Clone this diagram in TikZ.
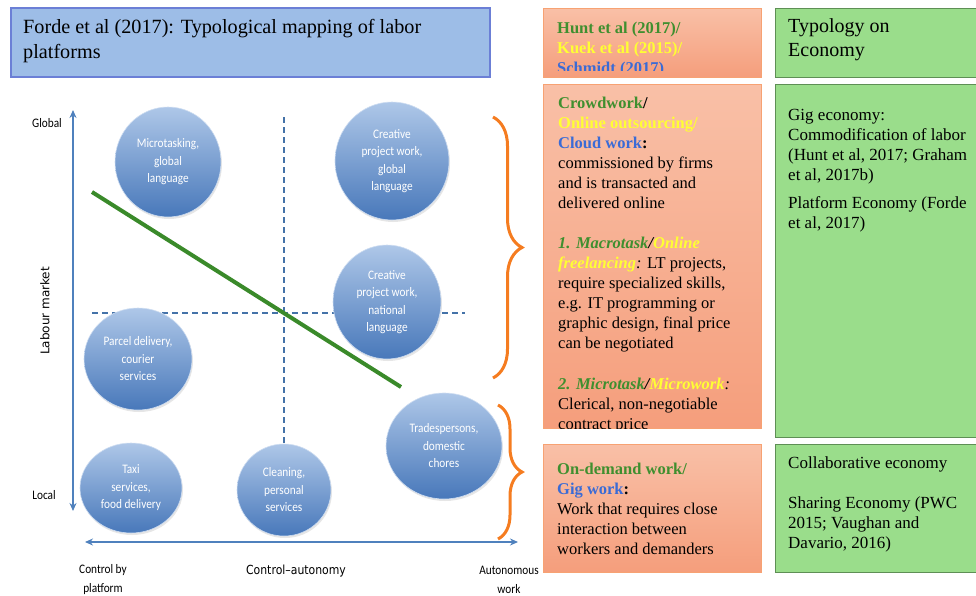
\documentclass[tikz,border=0pt]{standalone}
\usepackage{fontspec}
\setmainfont{Liberation Serif}
\newfontfamily\bubblefont[FakeStretch=0.87]{Carlito}
\newfontfamily\axisfont[FakeStretch=0.87]{DejaVu Sans}
\newfontfamily\axisfontv{DejaVu Sans}
\usetikzlibrary{shapes.geometric,shadows,decorations.pathreplacing,arrows.meta}

\definecolor{hdrblue}{HTML}{9DBDE7}
\definecolor{hdredge}{HTML}{6B7FD6}
\definecolor{salmontop}{HTML}{F9C0A7}
\definecolor{salmonbot}{HTML}{F59E7C}
\definecolor{salmonedge}{HTML}{F7A273}
\definecolor{econgreen}{HTML}{9ADD8B}
\definecolor{econedge}{HTML}{5E8F55}
\definecolor{txtgreen}{HTML}{3F8F2F}
\definecolor{txtyellow}{HTML}{FFFF33}
\definecolor{txtblue}{HTML}{3A6BD6}
\definecolor{axisblue}{HTML}{4F81BD}
\definecolor{dashblue}{HTML}{4472A8}
\definecolor{bubtop}{HTML}{AEC7E8}
\definecolor{bubbot}{HTML}{4878BA}
\definecolor{braceorange}{HTML}{F57C20}
\definecolor{trendgreen}{HTML}{3A8A2A}

\newcommand{\grn}[1]{\textcolor{txtgreen}{#1}}
\newcommand{\ylw}[1]{\textcolor{txtyellow}{#1}}
\newcommand{\blu}[1]{\textcolor{txtblue}{#1}}

\tikzset{
  bubble/.style 2 args={ellipse, inner sep=0pt, minimum width=#1pt, minimum height=#2pt,
    draw=bubtop!60!white, line width=0.6pt, top color=bubtop, bottom color=bubbot,
    text=white, align=center, font=\bubblefont\fontsize{13}{17.5}\selectfont,
    drop shadow={opacity=0.2, shadow xshift=1pt, shadow yshift=-2pt}},
  lbl/.style={inner sep=0pt, align=center, font=\bubblefont\fontsize{13}{19}\selectfont},
  para/.style={anchor=base west, inner sep=0pt, align=left, font=\fontsize{16.5}{20}\selectfont},
  econ/.style={anchor=base west, inner sep=0pt, align=left, font=\fontsize{17}{20}\selectfont},
  salmonbox/.style={top color=salmontop, bottom color=salmonbot, draw=salmonedge, line width=0.8pt},
  econbox/.style={fill=econgreen, draw=econedge, line width=1pt},
  axis/.style={axisblue, line width=2pt, {Stealth[length=8pt,width=7pt]}-{Stealth[length=8pt,width=7pt]}},
  guide/.style={dashblue, line width=2pt, dash pattern=on 6pt off 4pt},
  rbrace/.style={decorate, decoration={brace, amplitude=#1}, braceorange, line width=3pt},
}

\begin{document}
\begin{tikzpicture}[x=1pt, y=-1pt]
\useasboundingbox (0,0) rectangle (976,595);
% text nodes sit on the baseline of their last line
%header boxes
\draw[fill=hdrblue, draw=hdredge, line width=1.2pt] (11,8) rectangle (490,77);
\node[anchor=base west, inner sep=0pt, align=left, font=\fontsize{20.2}{25}\selectfont] (title) at (23,58)
  {Forde et al (2017): Typological mapping of labor\\platforms};
\draw[salmonbox] (543,8) rectangle (761,77);
\begin{scope}
\clip (543,8) rectangle (761,70);
\node[para, font=\bfseries\fontsize{16.5}{20}\selectfont] (refs) at (557,73)
  {\grn{Hunt et al (2017)/}\\\ylw{Kuek et al (2015)/}\\\blu{Schmidt (2017)}};
\end{scope}
\draw[econbox] (775,8) rectangle (990,77);
\node[anchor=base west, inner sep=0pt, align=left, font=\fontsize{20}{24}\selectfont] (typo) at (788,56)
  {Typology on\\Economy};

%work types
\draw[salmonbox] (543,84) rectangle (761,428);
\begin{scope}
\clip (543,84) rectangle (761,428);
\node[para] (crowd) at (558,208)
  {\textbf{\grn{Crowdwork}/}\\\textbf{\ylw{Online outsourcing/}}\\\textbf{\blu{Cloud work}:}\\commissioned by firms\\and is transacted and\\delivered online};
\node[para] (macro) at (558,348)
  {\textbf{\textit{\grn{1. Macrotask}/\ylw{Online}}}\\\textbf{\textit{\ylw{freelancing}}}\textit{:} LT projects,\\require specialized skills,\\e.g. IT programming or\\graphic design, final price\\can be negotiated};
\node[para] (micro) at (558,429)
  {\textbf{\textit{\grn{2. Microtask}/\ylw{Microwork}}}\textit{:}\\Clerical, non-negotiable\\contract price};
\end{scope}
\draw[salmonbox] (543,444) rectangle (761,572);
\node[para] (ondemand) at (557,554)
  {\textbf{\grn{On-demand work/}}\\\textbf{\blu{Gig work}:}\\Work that requires close\\interaction between\\workers and demanders};

%economy types
\draw[econbox] (775,84) rectangle (990,437);
\node[econ] (gig) at (788,180)
  {Gig economy:\\Commodification of labor\\(Hunt et al, 2017; Graham\\et al, 2017b)};
\node[econ] (platform) at (788,228) {Platform Economy (Forde\\et al, 2017)};
\draw[econbox] (775,444) rectangle (990,572);
\node[econ] (collab) at (788,548)
  {Collaborative economy\\[20pt]Sharing Economy (PWC\\2015; Vaughan and\\Davario, 2016)};

%axis
\coordinate (ytop) at (73,110);
\coordinate (ybot) at (73,511);
\coordinate (xleft) at (85,542);
\coordinate (xright) at (518,542);
\draw[axis] (ybot) -- (ytop);
\draw[axis] (xleft) -- (xright);
\node[lbl] (global) at (47,123) {Global};
\node[lbl] (local) at (44,495) {Local};
\node[inner sep=0pt, rotate=90, font=\axisfontv\fontsize{12}{14}\selectfont] (labour) at (45,311) {Labour market};
\node[inner sep=0pt, font=\axisfont\fontsize{12.5}{14}\selectfont] (ctrl) at (296,571) {Control–autonomy};
\node[lbl] (byplat) at (103,580) {Control by\\platform};
\node[lbl] (auton) at (509,580) {Autonomous\\work};

%quadrant guides
\draw[guide] (92,313) -- (465,313);
\draw[guide] (284,117) -- (284,444);

%bubbles
\node[bubble={106}{110}] (mtask) at (168,162) {Microtasking,\\global\\language};
\node[bubble={114}{118}] (cglobal) at (392,161) {Creative\\project work,\\global\\language};
\node[bubble={108}{114}] (cnation) at (387,302) {Creative\\project work,\\national\\language};
\node[bubble={108}{102}] (parcel) at (138,359) {Parcel delivery,\\courier\\services};
\node[bubble={116}{106}] (trade) at (444,446) {Tradespersons,\\domestic\\chores};
\node[bubble={102}{90}] (taxi) at (131,488) {Taxi\\services,\\food delivery};
\node[bubble={94}{92}] (clean) at (284,490) {Cleaning,\\personal\\services};

%trend
\draw[trendgreen, line width=4pt] (92,192) -- (401,387);

%braces
\draw[rbrace=29pt] (493,117) -- (493,378);
\draw[rbrace=24pt] (498,405) -- (498,539);
\end{tikzpicture}
\end{document}
